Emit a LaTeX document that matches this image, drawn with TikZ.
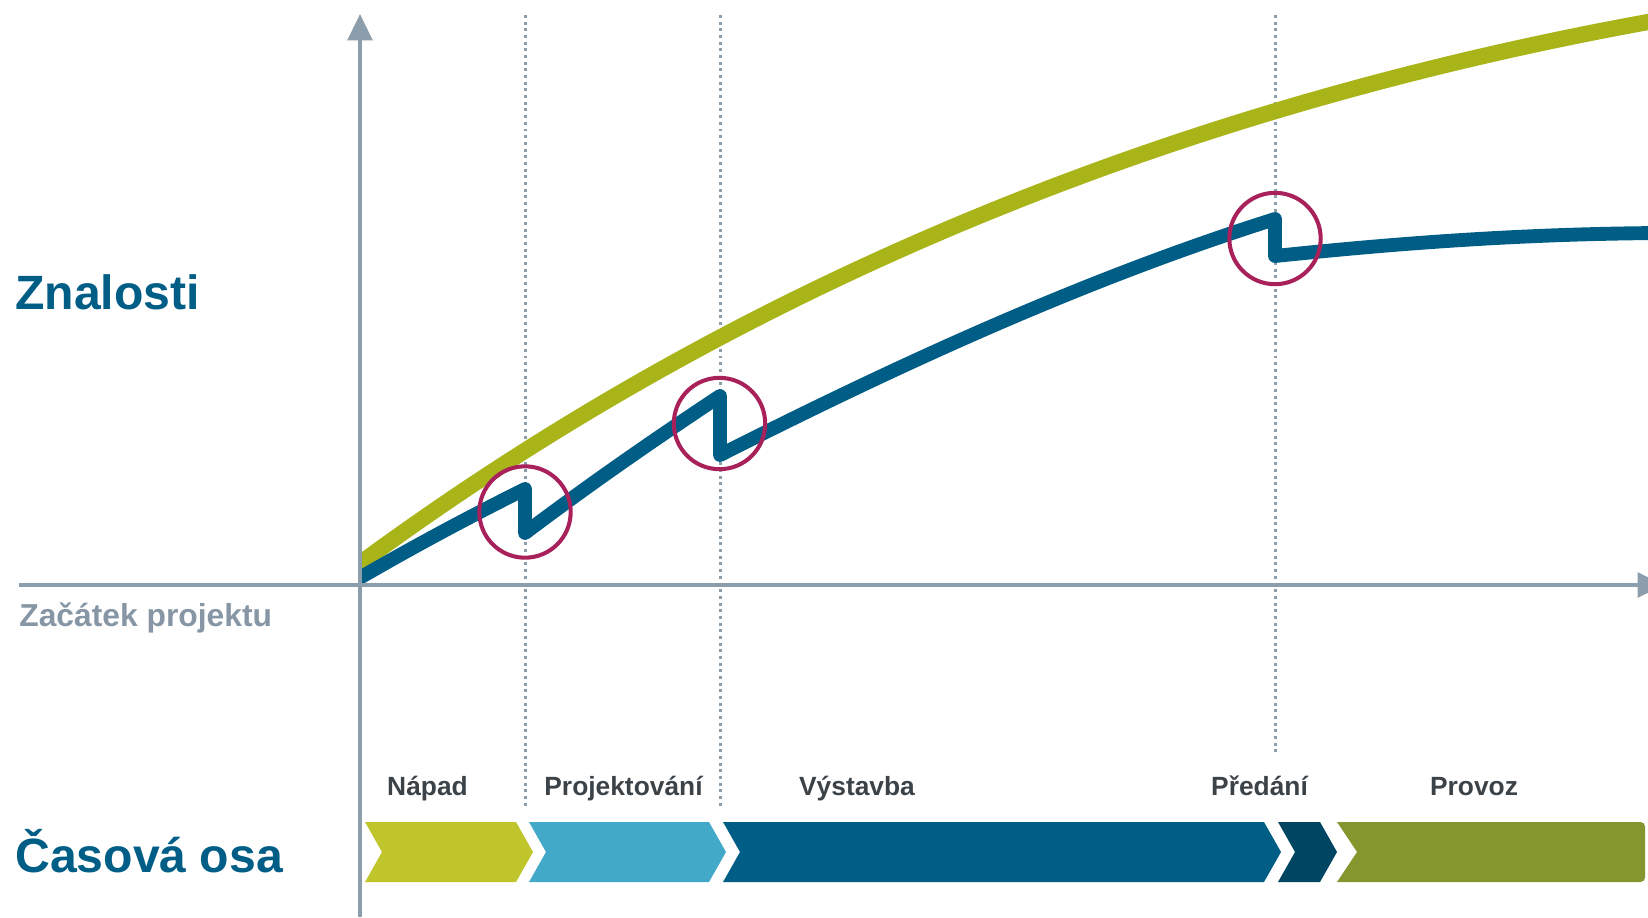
\documentclass[tikz,border=0pt]{standalone}
\usepackage{fontspec}
\setmainfont{Liberation Sans}
\usetikzlibrary{arrows.meta}
\definecolor{osagrey}{HTML}{8C9DAC}
\definecolor{startgrey}{HTML}{8796A5}
\definecolor{labelgrey}{HTML}{3C4348}
\definecolor{knowgreen}{HTML}{A9B418}
\definecolor{knowblue}{HTML}{005E86}
\definecolor{ringred}{HTML}{A8215A}
\definecolor{napadcol}{HTML}{BFC52A}
\definecolor{projektcol}{HTML}{43A9C8}
\definecolor{vystavbacol}{HTML}{005E86}
\definecolor{predanicol}{HTML}{004663}
\definecolor{provozcol}{HTML}{86962E}
\tikzset{
  axis/.style={draw=osagrey,line width=2.1pt,-{Triangle[width=14pt,length=15pt]}},
  milestone/.style={draw=osagrey,line width=1.7pt,dash pattern=on 1.7pt off 2.1pt},
  breakring/.style={draw=ringred,line width=2.3pt},
  phase/.style={font=\fontsize{15}{18}\selectfont\bfseries,text=labelgrey,anchor=base,inner sep=0pt},
  bigtitle/.style={font=\fontsize{27.4}{31}\selectfont\bfseries,text=knowblue,anchor=base west,inner sep=0pt}
}
\begin{document}
\begin{tikzpicture}[x=0.02cm,y=-0.02cm]
              \clip (0,0) rectangle (1648,917);
              \draw[milestone] (525,15) -- (525,808);
              \draw[milestone] (720,15) -- (720,808);
              \draw[milestone] (1275,15) -- (1275,755);
              \begin{scope}
                \clip (362,0) rectangle (1648,585);
                \draw[knowgreen,line width=9.2pt] (350,570.8) -- (362,562) .. controls (731,291) and (1160,111) .. (1648,22) -- (1660,19.8);
                \draw[knowblue,line width=7.9pt,line join=round] (350,583.5) .. controls (416,545) and (471,516) .. (525,489) -- (525,533)
                  .. controls (590,484) and (655,439) .. (720,396) -- (720,455)
                  .. controls (900,364) and (1085,279) .. (1275,219) -- (1275,256)
                  .. controls (1400,243) and (1520,234) .. (1660,233);
              \end{scope}
              \draw[breakring] (525,512) circle [radius=26pt];
              \draw[breakring] (719.5,423.5) circle [radius=26pt];
              \draw[breakring] (1275,238.5) circle [radius=26pt];
              \draw[axis] (360,917) -- (360,14);
              \draw[axis] (19,585) -- (1664,585);
              \foreach \a/\b/\col in {365/516/napadcol, 529/709/projektcol, 723/1264/vystavbacol, 1278/1320/predanicol}
                \fill[\col] (\a,822) -- (\b,822) -- ++(17,30) -- (\b,882) -- (\a,882) -- ++(17,-30) -- cycle;
              \fill[provozcol] (1337,822) {[rounded corners=2.5pt] -- (1645,822) -- (1645,882)} -- (1337,882) -- (1357,852) -- cycle;
              \node[bigtitle] (znalosti) at (15,309) {Znalosti};
              \node[bigtitle] (osa) at (15,872) {Časová osa};
              \node[font=\fontsize{18.1}{21}\selectfont\bfseries,text=startgrey,anchor=base west,inner sep=0pt] (zacatek) at (19,626) {Začátek projektu};
              \node[phase] (napad) at (427.5,795) {Nápad};
              \node[phase] (projekt) at (623.5,795) {Projektování};
              \node[phase] (vystavba) at (857,795) {Výstavba};
              \node[phase] (predani) at (1259.5,795) {Předání};
              \node[phase] (provoz) at (1474,795) {Provoz};
            \end{tikzpicture}
\end{document}
